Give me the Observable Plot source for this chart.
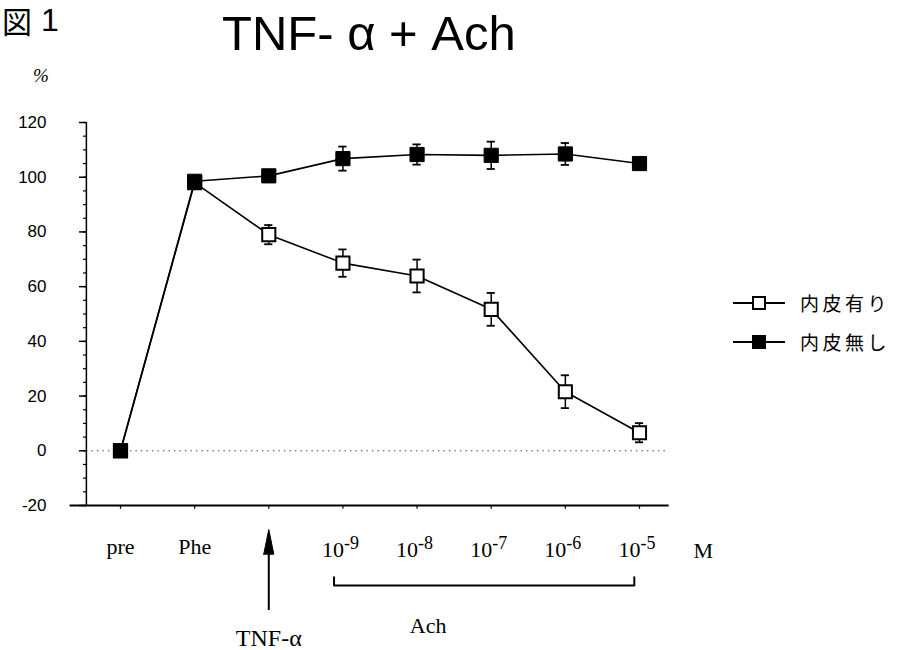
<!DOCTYPE html>
<html><head><meta charset="utf-8">
<script src="https://cdn.jsdelivr.net/npm/d3@7"></script>
<script src="https://cdn.jsdelivr.net/npm/@observablehq/plot@0.6"></script>
<style>
body{margin:0;background:#fff;}
#wrap{position:relative;width:899px;height:650px;overflow:hidden;background:#fff;}
#chart{position:absolute;left:0;top:0;}
.fig{position:absolute;left:2px;top:3px;font:30px/34px "Noto Sans CJK JP",sans-serif;color:#000;}
.fig1{position:absolute;left:41px;top:3px;font:32px/34px "Liberation Sans",Arial,sans-serif;color:#000;}
.title{position:absolute;left:222px;top:9px;font:49px/49px "Liberation Sans",Arial,sans-serif;color:#000;white-space:nowrap;}
.pct{position:absolute;left:33px;top:66px;font:italic 19px/19px "Liberation Serif",serif;color:#000;}
.legend{position:absolute;left:733px;top:291px;font:19px/24px "Noto Sans CJK JP",sans-serif;color:#000;}
.row{position:relative;height:39px;}
.ln{position:absolute;left:0;top:11px;width:52px;height:2px;background:#000;}
.sq{position:absolute;left:19px;top:5px;width:14px;height:14px;box-sizing:border-box;border:2px solid #000;background:#fff;}
.sq.fill{background:#000;}
.lt{position:absolute;left:67px;top:0px;letter-spacing:3.5px;white-space:nowrap;}
</style></head><body>
<div id="wrap">
  <div id="chart"></div>
  <div class="fig">図</div><div class="fig1">1</div>
  <div class="title">TNF- α + Ach</div>
  <div class="pct">%</div>
  <div class="legend"></div>
</div>
<script>
// ---- data ----
const categories = ["pre", "Phe", "TNF-α", "1e-9", "1e-8", "1e-7", "1e-6", "1e-5"];
const seriesNames = ["内皮有り", "内皮無し"];
const withEndo      = [0, 98, 79, 68.6, 63.9, 51.7, 21.6, 6.6];
const withEndoErr   = [0, 1, 3.5, 5, 6, 6, 6, 3.5];
const withoutEndo    = [0, 98.5, 100.5, 106.8, 108.3, 108, 108.5, 105];
const withoutEndoErr = [0, 1, 1.5, 4.4, 3.7, 5, 4, 1.5];
const yTicks = [-20, 0, 20, 40, 60, 80, 100, 120];
const yMinorTicks = d3.range(-20, 121, 5);
const xTextLabels = [{i: 0, t: "pre"}, {i: 1, t: "Phe"}];
const xPowerLabels = [{i: 3, e: "-9"}, {i: 4, e: "-8"}, {i: 5, e: "-7"}, {i: 6, e: "-6"}, {i: 7, e: "-5"}];
const unitLabel = "M";
const unitPos = 7.86;
const achRange = [2.88, 6.93];
const achLabelPos = 4.15;
const tnfIndex = 2;
// annotation levels (below the axis, in y units)
const bracketY = -49.2, bracketEndY = -46.2;
const arrowTipY = -28.8, arrowHeadBaseY = -37.8, arrowTailY = -58.4, arrowHalfWidth = 0.068;

// ---- build tables ----
const rows = [];
categories.forEach((c, i) => {
  rows.push({i, s: seriesNames[0], v: withEndo[i], e: withEndoErr[i]});
  rows.push({i, s: seriesNames[1], v: withoutEndo[i], e: withoutEndoErr[i]});
});
const open = rows.filter(d => d.s === seriesNames[0]);
const filled = rows.filter(d => d.s === seriesNames[1]);
const errs = rows.filter(d => d.e > 0);

const W = 899, H = 650;
const xDomain = [0, 7], xRange = [120, 639];
const yDomain = [-20, 120], yRange = [505, 122];
const axisLeftX = -0.46, axisRightX = 7.4, xAxisStartX = -0.68;
const serif = "Liberation Serif, Times New Roman, serif";

const chart = Plot.plot({
  width: W, height: H,
  marginLeft: 86, marginRight: W - 668, marginTop: 122, marginBottom: H - 505,
  x: {domain: xDomain, range: xRange, axis: null, label: null},
  y: {domain: yDomain, range: yRange, axis: null, label: null},
  style: {background: "white", color: "black"},
  marks: [
    // y axis
    Plot.ruleX([axisLeftX], {y1: -20, y2: 120, stroke: "black", strokeWidth: 1.5}),
    Plot.axisY({ticks: yMinorTicks, tickSize: 3, tickFormat: () => "", label: null, anchor: "left", strokeWidth: 1.2}),
    Plot.axisY({ticks: yTicks, tickSize: 7, tickPadding: 33, tickFormat: d => String(d), label: null, anchor: "left", fontSize: 17, fontFamily: "Liberation Sans, Arial, sans-serif", strokeWidth: 1.5}),
    // x axis
    Plot.ruleY([-20], {x1: xAxisStartX, x2: axisRightX, stroke: "black", strokeWidth: 2}),
    Plot.ruleX(categories.map((c, i) => i), {y1: -20, y2: -21.4, stroke: "black", strokeWidth: 1.2}),
    // zero reference
    Plot.ruleY([0], {x1: axisLeftX, x2: axisRightX, stroke: "#444", strokeWidth: 1, strokeDasharray: "1.5,4"}),
    // error bars
    Plot.ruleX(errs, {x: "i", y1: d => d.v - d.e, y2: d => d.v + d.e, stroke: "black", strokeWidth: 1.5}),
    Plot.ruleY(errs, {y: d => d.v + d.e, x1: d => d.i - 0.055, x2: d => d.i + 0.055, stroke: "black", strokeWidth: 1.8}),
    Plot.ruleY(errs, {y: d => d.v - d.e, x1: d => d.i - 0.055, x2: d => d.i + 0.055, stroke: "black", strokeWidth: 1.8}),
    // lines
    Plot.line(open, {x: "i", y: "v", stroke: "black", strokeWidth: 1.6}),
    Plot.line(filled, {x: "i", y: "v", stroke: "black", strokeWidth: 1.6}),
    // markers
    Plot.dot(open, {x: "i", y: "v", symbol: "square", r: 7.4, fill: "white", stroke: "black", strokeWidth: 2}),
    Plot.dot(filled, {x: "i", y: "v", symbol: "square", r: 8, fill: "black", stroke: "black", strokeWidth: 1}),
    // x labels
    Plot.text(xTextLabels, {x: "i", y: -20, text: "t", lineAnchor: "bottom", dy: 48, fontSize: 22, fontFamily: serif}),
    Plot.text(xPowerLabels, {x: "i", y: -20, text: () => "10", lineAnchor: "bottom", textAnchor: "end", dy: 51, dx: 1, fontSize: 22, fontFamily: serif}),
    Plot.text(xPowerLabels, {x: "i", y: -20, text: "e", lineAnchor: "bottom", textAnchor: "start", dy: 43, dx: 1, fontSize: 18, fontFamily: serif}),
    Plot.text([unitLabel], {x: unitPos, y: -20, text: d => d, lineAnchor: "bottom", dy: 52, fontSize: 22, fontFamily: serif}),
    // TNF-α arrow
    Plot.ruleX([tnfIndex], {y1: arrowTailY, y2: arrowHeadBaseY, stroke: "black", strokeWidth: 2}),
    Plot.line([[tnfIndex - arrowHalfWidth, arrowHeadBaseY], [tnfIndex, arrowTipY], [tnfIndex + arrowHalfWidth, arrowHeadBaseY], [tnfIndex - arrowHalfWidth, arrowHeadBaseY]], {fill: "black", stroke: "black", strokeWidth: 1}),
    Plot.text(["TNF-α"], {x: tnfIndex, y: -20, text: d => d, lineAnchor: "bottom", dy: 140, fontSize: 24, fontFamily: serif}),
    // Ach bracket
    Plot.line([[achRange[0], bracketEndY], [achRange[0], bracketY], [achRange[1], bracketY], [achRange[1], bracketEndY]], {stroke: "black", strokeWidth: 2}),
    Plot.text(["Ach"], {x: achLabelPos, y: -20, text: d => d, lineAnchor: "bottom", dy: 127, fontSize: 22, fontFamily: serif})
  ]
});
document.getElementById("chart").appendChild(chart);

// legend
const legend = document.querySelector(".legend");
seriesNames.forEach((n, k) => {
  const row = document.createElement("div");
  row.className = "row";
  row.innerHTML = `<span class="ln"></span><span class="sq${k ? " fill" : ""}"></span><span class="lt">${n}</span>`;
  legend.appendChild(row);
});
</script>
</body></html>
